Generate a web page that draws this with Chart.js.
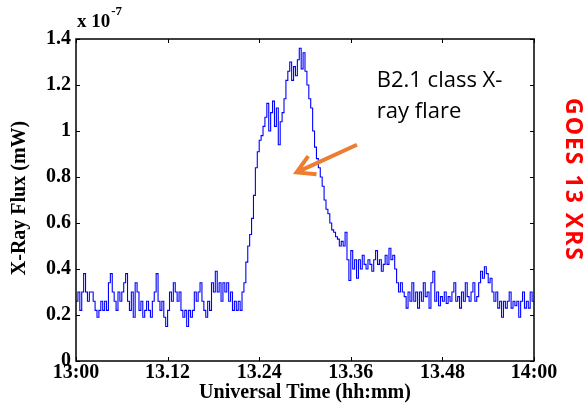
<!DOCTYPE html>
<html>
<head>
<meta charset="utf-8">
<script src="https://cdn.jsdelivr.net/npm/chart.js@4/dist/chart.umd.min.js"></script>
<style>
  html, body { margin: 0; padding: 0; background: #fff; }
</style>
</head>
<body>
<canvas id="chartContainer" width="587" height="405"></canvas>
<script>
// GOES 13 XRS flux, one reading every quarter minute from 13:00 to 14:00 (units of 1e-7)
var sampleStep = 0.25;
var flux = [
  0.26, 0.30, 0.22, 0.30,  0.38, 0.30, 0.26, 0.30,  0.30, 0.26, 0.22, 0.19,
  0.22, 0.26, 0.22, 0.26,  0.22, 0.34, 0.38, 0.30,  0.26, 0.22, 0.30, 0.26,
  0.30, 0.34, 0.38, 0.26,  0.22, 0.30, 0.19, 0.34,  0.30, 0.22, 0.26, 0.19,
  0.22, 0.26, 0.22, 0.19,  0.26, 0.30, 0.38, 0.26,  0.22, 0.26, 0.19, 0.15,
  0.22, 0.30, 0.26, 0.34,  0.30, 0.26, 0.30, 0.22,  0.19, 0.22, 0.15, 0.22,
  0.19, 0.22, 0.30, 0.26,  0.30, 0.34, 0.26, 0.22,  0.19, 0.26, 0.22, 0.34,
  0.30, 0.39, 0.30, 0.34,  0.26, 0.34, 0.30, 0.34,  0.26, 0.30, 0.22, 0.26,
  0.22, 0.26, 0.22, 0.30,  0.34, 0.43, 0.50, 0.55,  0.62, 0.72, 0.84, 0.91,
  0.96, 0.98, 1.02, 1.06,  1.12, 1.00, 1.08, 1.13,  1.02, 1.10, 0.94, 1.04,
  1.08, 1.14, 1.22, 1.26,  1.30, 1.22, 1.28, 1.24,  1.31, 1.36, 1.27, 1.34,
  1.26, 1.20, 1.14, 1.10,  1.00, 0.93, 0.88, 0.84,  0.80, 0.76, 0.70, 0.66,
  0.64, 0.60, 0.57, 0.56,  0.54, 0.53, 0.50, 0.52,  0.50, 0.56, 0.44, 0.35,
  0.48, 0.40, 0.44, 0.36,  0.44, 0.40, 0.46, 0.42,  0.40, 0.44, 0.42, 0.39,
  0.44, 0.48, 0.42, 0.44,  0.39, 0.42, 0.46, 0.42,  0.49, 0.44, 0.46, 0.40,
  0.34, 0.30, 0.34, 0.30,  0.28, 0.23, 0.30, 0.26,  0.34, 0.26, 0.30, 0.23,
  0.30, 0.26, 0.34, 0.28,  0.30, 0.23, 0.34, 0.39,  0.26, 0.30, 0.24, 0.28,
  0.26, 0.30, 0.25, 0.28,  0.26, 0.30, 0.34, 0.26,  0.28, 0.23, 0.30, 0.26,
  0.34, 0.28, 0.26, 0.30,  0.34, 0.26, 0.28, 0.34,  0.39, 0.36, 0.41, 0.38,
  0.34, 0.36, 0.30, 0.26,  0.30, 0.23, 0.26, 0.19,  0.26, 0.23, 0.26, 0.30,
  0.23, 0.26, 0.24, 0.26,  0.19, 0.26, 0.30, 0.23,  0.26, 0.23, 0.30, 0.26,
  0.26
];
var xTickValues = [0, 12, 24, 36, 48, 60];
var xTickLabels = ['13:00', '13.12', '13.24', '13.36', '13.48', '14:00'];
var yTickValues = [0, 0.2, 0.4, 0.6, 0.8, 1.0, 1.2, 1.4];
var yTickLabels = ['0', '0.2', '0.4', '0.6', '0.8', '1', '1.2', '1.4'];

var xTitle = 'Universal Time (hh:mm)';
var yTitle = 'X-Ray Flux (mW)';
var noteLines = ['B2.1 class X-', 'ray flare'];
var sideLabel = 'GOES 13 XRS';

var serif = '"Liberation Serif", "Times New Roman", serif';

var points = flux.map(function(v, i) { return { x: i * sampleStep, y: v }; });

// box, inward ticks, titles and the flare note, MATLAB style
var decor = {
  id: 'decor',
  afterDraw: function(chart) {
    var ctx = chart.ctx;
    var a = chart.chartArea;
    var xs = chart.scales.x, ys = chart.scales.y;
    ctx.save();

    ctx.strokeStyle = '#000';
    ctx.lineWidth = 1.5;
    ctx.strokeRect(a.left, a.top, a.right - a.left, a.bottom - a.top);
    ctx.lineWidth = 1;
    xTickValues.forEach(function(v) {
      var px = Math.round(xs.getPixelForValue(v)) + 0.5;
      ctx.beginPath();
      ctx.moveTo(px, a.bottom); ctx.lineTo(px, a.bottom - 4);
      ctx.moveTo(px, a.top); ctx.lineTo(px, a.top + 4);
      ctx.stroke();
    });
    yTickValues.forEach(function(v) {
      var py = Math.round(ys.getPixelForValue(v)) + 0.5;
      ctx.beginPath();
      ctx.moveTo(a.left, py); ctx.lineTo(a.left + 4, py);
      ctx.moveTo(a.right, py); ctx.lineTo(a.right - 4, py);
      ctx.stroke();
    });

    // exponent
    ctx.fillStyle = '#000';
    ctx.font = 'bold 19px ' + serif;
    ctx.textAlign = 'left';
    ctx.textBaseline = 'alphabetic';
    ctx.fillText('x 10', a.left + 1, a.top - 12);
    var w = ctx.measureText('x 10').width;
    ctx.font = 'bold 13px ' + serif;
    ctx.fillText('-7', a.left + 2 + w, a.top - 24);

    // axis titles
    ctx.font = 'bold 20px ' + serif;
    ctx.textAlign = 'center';
    ctx.textBaseline = 'middle';
    ctx.fillText(xTitle, (a.left + a.right) / 2, 393);
    ctx.save();
    ctx.translate(20, (a.top + a.bottom) / 2 - 2);
    ctx.rotate(-Math.PI / 2);
    ctx.fillText(yTitle, 0, 0);
    ctx.restore();

    // flare note
    ctx.font = '22px "Open Sans", "Noto Sans", sans-serif';
    ctx.textAlign = 'left';
    ctx.textBaseline = 'alphabetic';
    ctx.fillText(noteLines[0], xs.getPixelForValue(39.4), ys.getPixelForValue(1.19));
    ctx.fillText(noteLines[1], xs.getPixelForValue(39.4), ys.getPixelForValue(1.055));

    // arrow
    var x0 = xs.getPixelForValue(36.8), y0 = ys.getPixelForValue(0.94);
    var x1 = xs.getPixelForValue(28.9), y1 = ys.getPixelForValue(0.82);
    var ang = Math.atan2(y0 - y1, x0 - x1);
    ctx.strokeStyle = '#ED7D31';
    ctx.lineWidth = 4;
    ctx.lineCap = 'butt';
    ctx.beginPath();
    ctx.moveTo(x0, y0); ctx.lineTo(x1, y1);
    ctx.moveTo(x1 + 20 * Math.cos(ang - 0.52), y1 + 20 * Math.sin(ang - 0.52));
    ctx.lineTo(x1, y1);
    ctx.lineTo(x1 + 20 * Math.cos(ang + 0.52), y1 + 20 * Math.sin(ang + 0.52));
    ctx.stroke();

    // side label
    ctx.fillStyle = '#FF0000';
    ctx.font = 'bold 23px "Open Sans", "Noto Sans", sans-serif';
    ctx.letterSpacing = '2px';
    ctx.textAlign = 'center';
    ctx.textBaseline = 'middle';
    ctx.translate(573, 180);
    ctx.rotate(Math.PI / 2);
    ctx.fillText(sideLabel, 0, 0);

    ctx.restore();
  }
};

var ctx = document.getElementById('chartContainer').getContext('2d');
var fluxChart = new Chart(ctx, {
  type: 'line',
  data: {
    datasets: [{
      label: 'flux',
      data: points,
      borderColor: '#0000FF',
      borderWidth: 1.1,
      pointRadius: 0,
      stepped: true,
      fill: false
    }]
  },
  options: {
    responsive: false,
    animation: false,
    devicePixelRatio: 1,
    layout: { padding: { left: 0, right: 53, top: 39, bottom: 0 } },
    plugins: { legend: { display: false }, tooltip: { enabled: false } },
    scales: {
      x: {
        type: 'linear',
        min: 0,
        max: 60,
        afterBuildTicks: function(s) { s.ticks = xTickValues.map(function(v) { return { value: v }; }); },
        afterFit: function(s) { s.height = 44; },
        grid: { display: false, drawTicks: false },
        border: { display: false },
        ticks: {
          color: '#000',
          font: { family: serif, size: 20, weight: 'bold' },
          padding: 0,
          maxRotation: 0,
          autoSkip: false,
          callback: function(v) { return xTickLabels[xTickValues.indexOf(v)]; }
        }
      },
      y: {
        min: 0,
        max: 1.4,
        afterBuildTicks: function(s) { s.ticks = yTickValues.map(function(v) { return { value: v }; }); },
        afterFit: function(s) { s.width = 76; },
        grid: { display: false, drawTicks: false },
        border: { display: false },
        ticks: {
          color: '#000',
          font: { family: serif, size: 20, weight: 'bold' },
          padding: 5,
          autoSkip: false,
          callback: function(v) { return yTickLabels[yTickValues.indexOf(v)]; }
        }
      }
    }
  },
  plugins: [decor]
});
</script>
</body>
</html>
